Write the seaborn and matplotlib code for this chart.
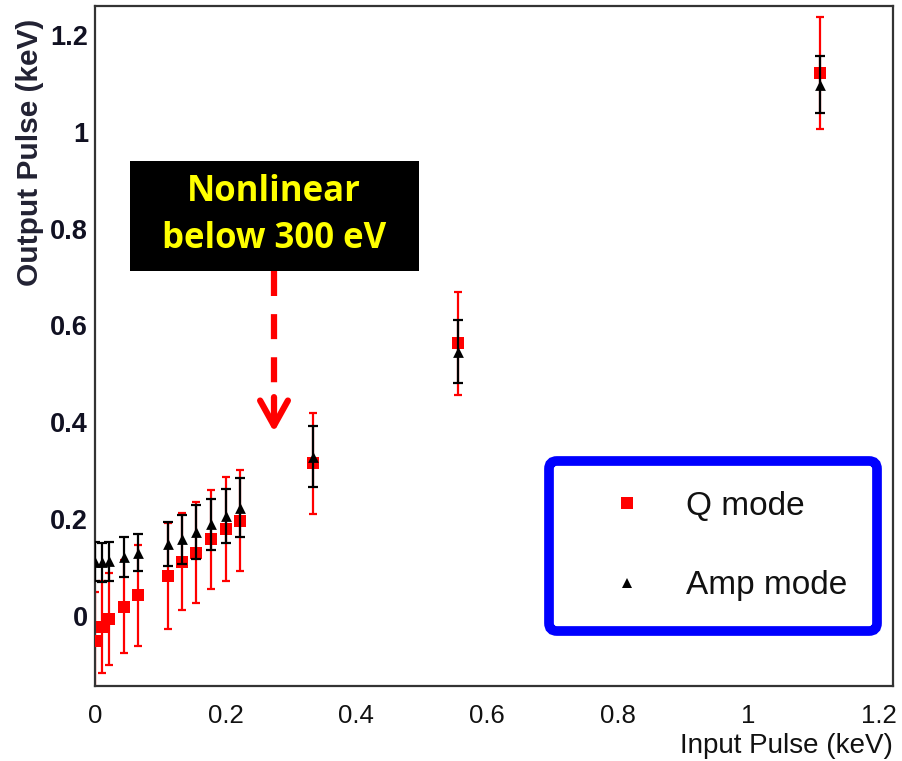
import matplotlib
matplotlib.use("Agg")
import matplotlib.pyplot as plt
from matplotlib.patches import Rectangle
from matplotlib.lines import Line2D
from matplotlib.ticker import MultipleLocator, FixedLocator
import seaborn as sns
import pandas as pd

# ---- data ----
input_kev = [0, 0.011, 0.022, 0.044, 0.066, 0.111, 0.133, 0.155, 0.177, 0.2, 0.222, 0.333, 0.555, 1.11]
q_mode = [-0.051, -0.022, -0.006, 0.019, 0.043, 0.083, 0.112, 0.131, 0.158, 0.180, 0.197, 0.315, 0.563, 1.122]
q_err = [0.100, 0.095, 0.095, 0.096, 0.104, 0.110, 0.100, 0.105, 0.103, 0.108, 0.104, 0.105, 0.107, 0.116]
amp_mode = [0.112, 0.111, 0.113, 0.122, 0.131, 0.149, 0.158, 0.174, 0.189, 0.207, 0.224, 0.329, 0.546, 1.097]
amp_err = [0.040, 0.040, 0.040, 0.041, 0.039, 0.046, 0.050, 0.056, 0.053, 0.056, 0.060, 0.063, 0.065, 0.059]
series_names = ["Q mode", "Amp mode"]
x_ticks = [0, 0.2, 0.4, 0.6, 0.8, 1.0, 1.2]
x_tick_labels = ["0", "0.2", "0.4", "0.6", "0.8", "1", "1.2"]
y_ticks = [0, 0.2, 0.4, 0.6, 0.8, 1.0, 1.2]
y_tick_labels = ["0", "0.2", "0.4", "0.6", "0.8", "1", "1.2"]

df = pd.concat([
    pd.DataFrame({"x": input_kev, "y": q_mode, "err": q_err, "mode": series_names[0]}),
    pd.DataFrame({"x": input_kev, "y": amp_mode, "err": amp_err, "mode": series_names[1]}),
], ignore_index=True)

sns.set_style("white")
plt.rcParams["font.family"] = ["Liberation Sans", "DejaVu Sans"]

W, H = 902, 761
fig = plt.figure(figsize=(W / 100, H / 100), dpi=100)
ax = fig.add_axes([95 / W, 1 - 686 / H, (892.7 - 95) / W, (686 - 6) / H])

colors = {"Q mode": "#ff0000", "Amp mode": "#000000"}
markers = {"Q mode": "s", "Amp mode": "^"}
sizes = {"Q mode": 70, "Amp mode": 60}
caps = {"Q mode": 2.6, "Amp mode": 3.3}

for i, name in enumerate(series_names):
    sub = df[df["mode"] == name]
    ax.errorbar(sub["x"], sub["y"], yerr=sub["err"], fmt="none", ecolor=colors[name],
                elinewidth=1.6, capsize=caps[name], capthick=1.6, zorder=2 + 2 * i)
    sns.scatterplot(data=sub, x="x", y="y", ax=ax, color=colors[name], marker=markers[name],
                    s=sizes[name], linewidth=0, zorder=3 + 2 * i, legend=False)

ax.set_xlim(0, 1.221)
ax.set_ylim(-0.1446, 1.2598)

ax.xaxis.set_major_locator(FixedLocator(x_ticks))
ax.set_xticklabels(x_tick_labels)
ax.yaxis.set_major_locator(FixedLocator(y_ticks))
ax.set_yticklabels(y_tick_labels)
ax.xaxis.set_minor_locator(MultipleLocator(0.05))
ax.yaxis.set_minor_locator(MultipleLocator(0.05))

ax.tick_params(axis="both", which="both", direction="in", color="#222222", width=1.6,
               top=False, right=False)
ax.tick_params(axis="both", which="major", length=16)
ax.tick_params(axis="both", which="minor", length=8)
ax.tick_params(axis="x", which="major", pad=13)
ax.tick_params(axis="y", which="major", pad=5)

for lab in ax.get_xticklabels():
    lab.set_fontsize(18.5)
    lab.set_color("#111111")
for lab in ax.get_yticklabels():
    lab.set_fontsize(19.5)
    lab.set_fontweight("bold")
    lab.set_color("#111122")

for sp in ax.spines.values():
    sp.set_color("#333333")
    sp.set_linewidth(1.6)
    sp.set_visible(True)

ax.set_xlabel("Input Pulse (keV)", fontsize=20, color="#111111")
ax.xaxis.set_label_coords((893 - 95) / 797.7, (686 - 746) / 680)
ax.xaxis.label.set_ha("right")
ax.xaxis.label.set_va("center")

ax.set_ylabel("Output Pulse (keV)", fontsize=21.5, fontweight="bold", color="#222233")
ax.yaxis.set_label_coords((30 - 95) / 797.7, (686 - 152) / 680)
ax.yaxis.label.set_va("center")
ax.yaxis.label.set_ha("center")

# ---- annotation box and arrow ----
box = Rectangle((130 / W, 1 - 270.7 / H), (419 - 130) / W, (270.7 - 161) / H,
                transform=fig.transFigure, facecolor="black", edgecolor="none", zorder=5)
fig.add_artist(box)
ann_font = ["Open Sans", "DejaVu Sans"]
fig.text(274 / W, 1 - 192 / H, "Nonlinear", ha="center", va="center", fontsize=25,
         fontweight="bold", color="#ffff00", family=ann_font, zorder=6)
fig.text(274 / W, 1 - 239 / H, "below 300 eV", ha="center", va="center", fontsize=25,
         fontweight="bold", color="#ffff00", family=ann_font, zorder=6)

arrow_x = 0.274
arrow_top = 0.7125
arrow_head_start = 0.452
arrow_tip = 0.380
ax.plot([arrow_x, arrow_x], [arrow_top, arrow_head_start], color="#ff0000", lw=4.5,
        dashes=(4.0, 2.9), solid_capstyle="butt", dash_capstyle="butt", zorder=6)
ax.annotate("", xy=(arrow_x, arrow_tip), xytext=(arrow_x, arrow_head_start),
            arrowprops=dict(arrowstyle="->,head_length=0.9,head_width=0.5", color="#ff0000",
                            lw=4.5, shrinkA=0, shrinkB=0, mutation_scale=20), zorder=6)

# ---- legend ----
handles = [
    Line2D([], [], marker="s", color="#ff0000", linestyle="none", markersize=8.5, markeredgewidth=0),
    Line2D([], [], marker="^", color="#000000", linestyle="none", markersize=7, markeredgewidth=0),
]
leg = ax.legend(handles, series_names, loc="upper left",
                bbox_to_anchor=(549 / W, 1 - 461 / H), bbox_transform=fig.transFigure,
                borderaxespad=0, borderpad=0.9, handlelength=2.9, handletextpad=0.3,
                labelspacing=1.45, fontsize=24, frameon=True, fancybox=True)
frame = leg.get_frame()
frame.set_edgecolor("#0000ff")
frame.set_linewidth(7)
frame.set_facecolor("white")
frame.set_alpha(1)
frame.set_boxstyle("round", pad=0, rounding_size=0.25)
for t in leg.get_texts():
    t.set_color("#111111")

fig.savefig("out.png", dpi=100)
